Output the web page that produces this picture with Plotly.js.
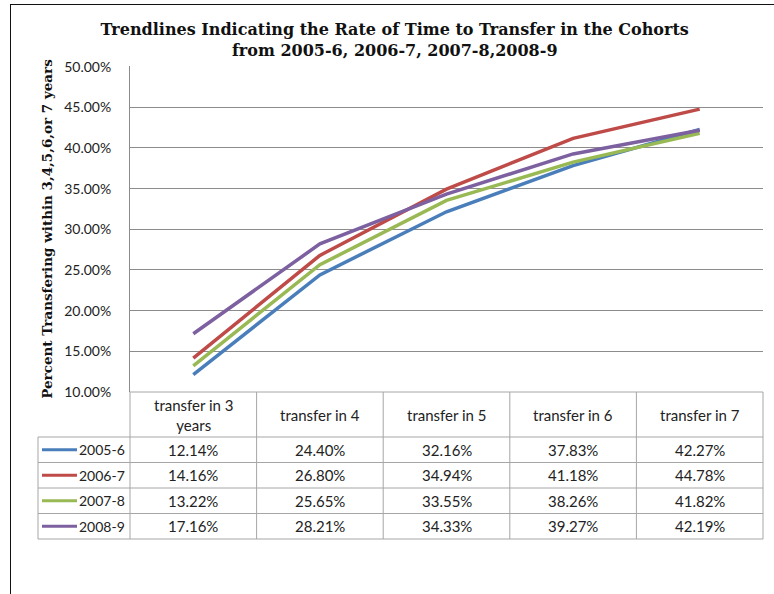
<!DOCTYPE html>
<html>
<head>
<meta charset="utf-8">
<script src="https://cdn.plot.ly/plotly-3.0.1.min.js"></script>
<style>
  html, body { margin: 0; padding: 0; background: #fff; }
  #frame { position: absolute; left: 10px; top: 4px; width: 800px; height: 620px; border: 1.5px solid #111; }
  #chart { position: absolute; left: 0; top: 0; width: 774px; height: 594px; }
</style>
</head>
<body>
<div id="frame"></div>
<div id="chart"></div>
<script>
// ---- data ----
const categories = ['transfer in 3 years', 'transfer in 4', 'transfer in 5', 'transfer in 6', 'transfer in 7'];
const headerLabels = ['transfer in 3<br>years', 'transfer in 4', 'transfer in 5', 'transfer in 6', 'transfer in 7'];
const cohorts = ['2005-6', '2006-7', '2007-8', '2008-9'];
const cohort2005 = [12.14, 24.40, 32.16, 37.83, 42.27];
const cohort2006 = [14.16, 26.80, 34.94, 41.18, 44.78];
const cohort2007 = [13.22, 25.65, 33.55, 38.26, 41.82];
const cohort2008 = [17.16, 28.21, 34.33, 39.27, 42.19];
const yTicks = [10, 15, 20, 25, 30, 35, 40, 45, 50];

const seriesValues = [cohort2005, cohort2006, cohort2007, cohort2008];
const colors = ['#4A7EBB', '#BE4B48', '#98B954', '#7D60A0'];

const tableFont = 'Lato, "Open Sans", sans-serif';
const serifFont = '"DejaVu Serif", "Liberation Serif", serif';
const gridColor = '#8c8c8c';
const tableLine = '#a6a6a6';
const textColor = '#222';

// ---- layout geometry (pixels) ----
const W = 774, H = 594;
const mL = 38, mR = 11, mT = 66, mB = 55;
const plotW = W - mL - mR, plotH = H - mT - mB;
const legendColW = 92;            // width of the legend column of the data table
const headerH = 45, rowH = 25.5;  // data-table row heights
const tableTop = H - mB - headerH - rowH * cohorts.length;
const xStart = legendColW / plotW;
const ySplit = (H - mB - tableTop) / plotH;

// pixel -> paper helpers
const py = p => (H - mB - p) / plotH;
const px = p => (p - mL) / plotW;
// column boundary in paper units (k = 0..n)
const colEdge = k => xStart + (1 - xStart) * k / categories.length;

// ---- traces ----
const traces = seriesValues.map((vals, i) => ({
  type: 'scatter',
  mode: 'lines',
  name: cohorts[i],
  x: categories,
  y: vals,
  line: { color: colors[i], width: 3.5 },
  showlegend: false,
  hoverinfo: 'skip'
}));

// ---- data table (below the plot, columns on the category scale) ----
const shapes = [];
const annotations = [];
const hline = (x0, x1, yP) => shapes.push({ type: 'line', xref: 'paper', yref: 'paper',
  x0: x0, x1: x1, y0: py(yP), y1: py(yP), line: { color: tableLine, width: 1 }, layer: 'below' });
const vline = (xP, y0, y1) => shapes.push({ type: 'line', xref: 'paper', yref: 'paper',
  x0: xP, x1: xP, y0: py(y0), y1: py(y1), line: { color: tableLine, width: 1 }, layer: 'below' });

const tableBottom = H - mB;
const headerBottom = tableTop + headerH;
hline(colEdge(0), 1, tableTop);
hline(0, 1, headerBottom);
cohorts.forEach((_, r) => hline(0, 1, headerBottom + rowH * (r + 1)));
vline(0, headerBottom, tableBottom);
for (let k = 0; k <= categories.length; k++) vline(colEdge(k), tableTop, tableBottom);

headerLabels.forEach((h, j) => annotations.push({
  xref: 'x', yref: 'paper', x: categories[j], y: py(tableTop + headerH / 2),
  text: h, showarrow: false, xanchor: 'center', yanchor: 'middle',
  font: { family: tableFont, size: 15, color: textColor }
}));
seriesValues.forEach((vals, r) => {
  const yc = py(headerBottom + rowH * (r + 0.5));
  vals.forEach((v, j) => annotations.push({
    xref: 'x', yref: 'paper', x: categories[j], y: yc,
    text: v.toFixed(2) + '%', showarrow: false, xanchor: 'center', yanchor: 'middle',
    font: { family: tableFont, size: 15, color: textColor }
  }));
  annotations.push({
    xref: 'paper', yref: 'paper', x: px(mL + legendColW - 3), y: yc,
    text: cohorts[r], showarrow: false, xanchor: 'right', yanchor: 'middle',
    font: { family: tableFont, size: 14, color: textColor }
  });
  shapes.push({ type: 'line', xref: 'paper', yref: 'paper',
    x0: px(mL + 4), x1: px(mL + 39), y0: yc, y1: yc,
    line: { color: colors[r], width: 3 } });
});

const layout = {
  width: W, height: H,
  margin: { l: mL, r: mR, t: mT, b: mB, pad: 0 },
  paper_bgcolor: 'rgba(0,0,0,0)',
  plot_bgcolor: 'rgba(0,0,0,0)',
  showlegend: false,
  title: {
    text: 'Trendlines Indicating the Rate of Time to Transfer in the Cohorts<br>from 2005-6, 2006-7, 2007-8,2008-9',
    font: { family: serifFont, size: 16, color: '#111', weight: 'bold' },
    xref: 'container', x: 0.51, xanchor: 'center',
    yref: 'container', y: 0.941, yanchor: 'top'
  },
  xaxis: {
    type: 'category',
    domain: [xStart, 1],
    range: [-0.5, categories.length - 0.5],
    showticklabels: false, showgrid: false, zeroline: false, showline: false, ticks: ''
  },
  yaxis: {
    domain: [ySplit, 1],
    range: [10, 50.08],
    tickvals: yTicks,
    ticktext: yTicks.map(v => v.toFixed(2) + '%'),
    showgrid: true, gridcolor: gridColor, gridwidth: 1,
    showline: true, linecolor: gridColor, linewidth: 1,
    zeroline: false,
    ticks: 'outside', ticklen: 15, tickcolor: 'rgba(0,0,0,0)',
    tickfont: { family: tableFont, size: 14, color: textColor },
    title: {
      text: 'Percent Transfering within 3,4,5,6,or 7 years',
      font: { family: serifFont, size: 13.5, color: '#111', weight: 'bold' },
      standoff: 8
    }
  },
  shapes: shapes,
  annotations: annotations
};

Plotly.newPlot('chart', traces, layout, { displayModeBar: false, staticPlot: true });
</script>
</body>
</html>
